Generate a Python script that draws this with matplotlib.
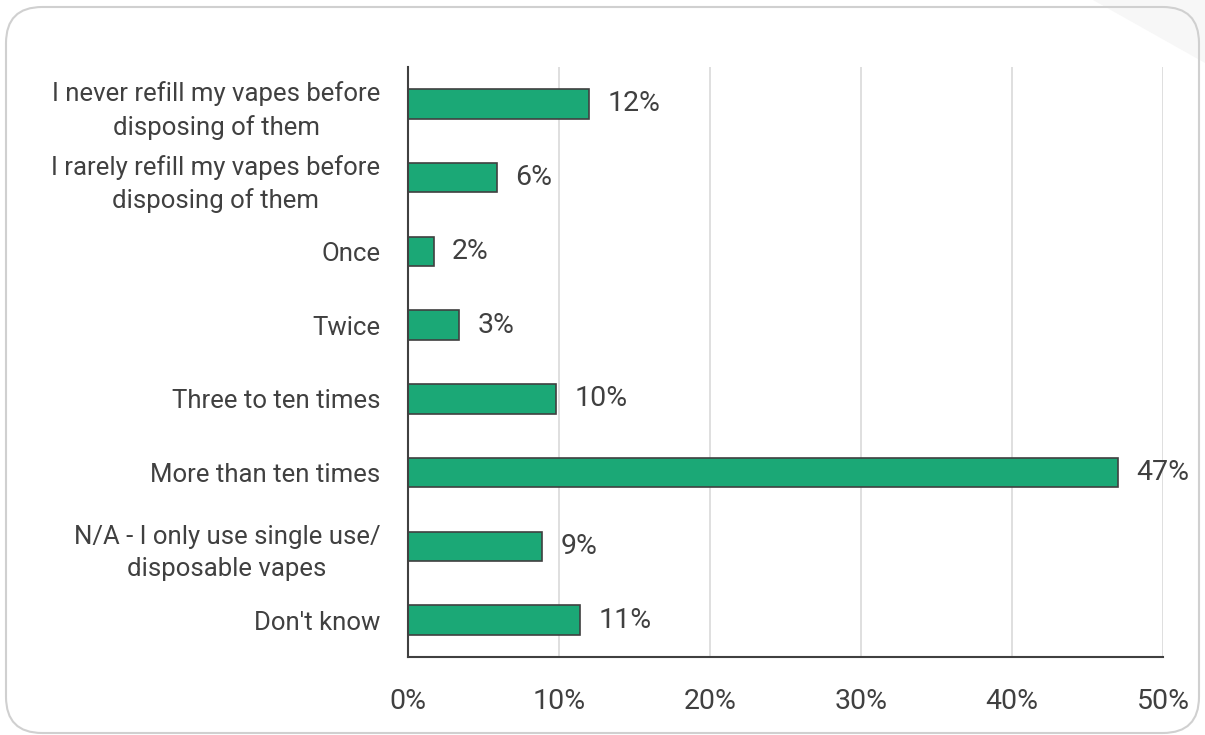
import matplotlib.pyplot as plt
from matplotlib.patches import FancyBboxPatch, Polygon

plt.rcParams['font.family'] = ['Roboto', 'DejaVu Sans']

# data (top to bottom)
categories = [
    "I never refill my vapes before\ndisposing of them",
    "I rarely refill my vapes before\ndisposing of them",
    "Once",
    "Twice",
    "Three to ten times",
    "More than ten times",
    "N/A - I only use single use/\ndisposable vapes",
    "Don't know",
]
values = [12.0, 5.9, 1.7, 3.4, 9.8, 47.0, 8.9, 11.4]
labels = ["12%", "6%", "2%", "3%", "10%", "47%", "9%", "11%"]
xticks = [0, 10, 20, 30, 40, 50]
xticklabels = ["0%", "10%", "20%", "30%", "40%", "50%"]

text_col = '#404040'
bar_col = '#1ba876'

fig = plt.figure(figsize=(12.05, 7.35), dpi=100)

# page fold shading top right
fig.patches.append(Polygon([(1093 / 1205, 1), (1, 1), (1, 1 - 63 / 735)],
                           closed=True, transform=fig.transFigure,
                           facecolor='#f7f7f7', edgecolor='none', zorder=0))
# rounded card border
fig.patches.append(FancyBboxPatch((6 / 1205, 2 / 735), 1193 / 1205, 726 / 735,
                                  boxstyle='round,pad=0,rounding_size=0.03',
                                  transform=fig.transFigure,
                                  facecolor='none', edgecolor='#d0d0d0',
                                  linewidth=1.5, zorder=1,
                                  mutation_aspect=1205 / 735))

ax = fig.add_axes([408 / 1205, 78 / 735, 755 / 1205, 590 / 735])
ax.set_facecolor('none')
y = list(range(len(categories)))
ax.barh(y, values, height=0.4, color=bar_col, edgecolor='#404040', linewidth=1.2, zorder=3)
for yi, v, lab in zip(y, values, labels):
    ax.text(v + 1.2, yi, lab, va='center', ha='left', fontsize=20.5, color=text_col, zorder=4)

ax.set_ylim(len(categories) - 0.5, -0.5)
ax.set_xlim(0, 50)
ax.set_yticks(y)
ax.set_yticklabels(categories, fontsize=18.5, color=text_col, linespacing=1.42, ha='right')
ax.set_xticks(xticks)
ax.set_xticklabels(xticklabels, fontsize=20.5, color=text_col)
ax.tick_params(axis='both', length=0)
ax.tick_params(axis='y', pad=20)
ax.tick_params(axis='x', pad=22)
for lab in ax.get_yticklabels():
    lab.set_multialignment('center')

ax.grid(axis='x', color='#d9d9d9', linewidth=1.2, zorder=0)
for s in ['top', 'right']:
    ax.spines[s].set_visible(False)
for s in ['left', 'bottom']:
    ax.spines[s].set_color('#404040')
    ax.spines[s].set_linewidth(1.5)
    ax.spines[s].set_zorder(5)

fig.savefig('out.png', dpi=100)
